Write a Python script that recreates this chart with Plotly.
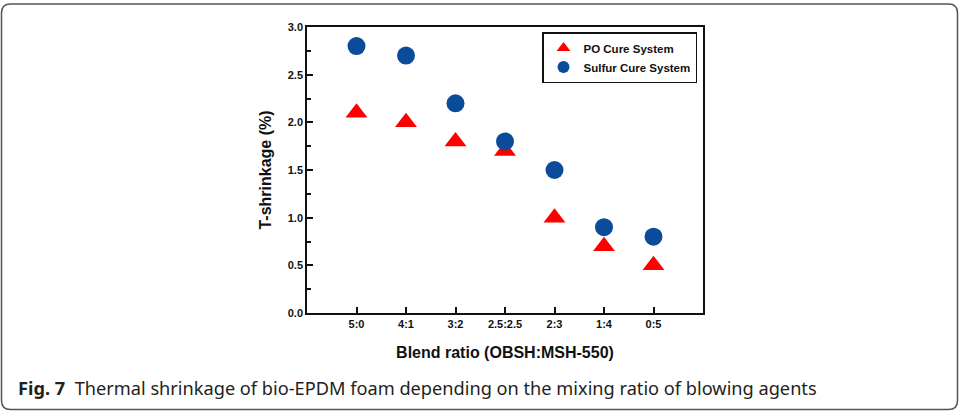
import plotly.graph_objects as go

categories = ["5:0", "4:1", "3:2", "2.5:2.5", "2:3", "1:4", "0:5"]
po_values = [2.1, 2.0, 1.8, 1.7, 1.0, 0.7, 0.5]
sulfur_values = [2.8, 2.7, 2.2, 1.8, 1.5, 0.9, 0.8]
y_ticks = [0.0, 0.5, 1.0, 1.5, 2.0, 2.5, 3.0]
y_tick_labels = ["0.0", "0.5", "1.0", "1.5", "2.0", "2.5", "3.0"]

W, H = 959, 413
L, R, T, B = 307, 703, 27, 313
FONT = "Arial, Liberation Sans, sans-serif"

xpos = list(range(len(categories)))

fig = go.Figure()
fig.add_trace(go.Scatter(
    x=xpos, y=po_values, mode="markers", name="<b>PO Cure System</b>",
    marker=dict(symbol="triangle-up", size=19, color="#FF0000", line=dict(width=0)),
))
fig.add_trace(go.Scatter(
    x=xpos, y=sulfur_values, mode="markers", name="<b>Sulfur Cure System</b>",
    marker=dict(symbol="circle", size=18, color="#0A4C9A", line=dict(width=0)),
))

def px2paper(px, py):
    return (px - L) / (R - L), (B - py) / (B - T)

def P(px, py):
    a, b = px2paper(px, py)
    return f"{a:.5f},{b:.5f}"

# rounded outer frame (figure border)
x0, y0, x1, y1, r = 1.5, 4.0, 957.5, 409.5, 9
path = (f"M {P(x0 + r, y0)} L {P(x1 - r, y0)} Q {P(x1, y0)} {P(x1, y0 + r)} "
        f"L {P(x1, y1 - r)} Q {P(x1, y1)} {P(x1 - r, y1)} "
        f"L {P(x0 + r, y1)} Q {P(x0, y1)} {P(x0, y1 - r)} "
        f"L {P(x0, y0 + r)} Q {P(x0, y0)} {P(x0 + r, y0)} Z")
fig.add_shape(type="path", path=path, xref="paper", yref="paper",
              line=dict(color="#555555", width=1.5), layer="above")

cap_x, cap_y = px2paper(16, 388)
fig.add_annotation(
    x=cap_x, y=cap_y, xref="paper", yref="paper", xanchor="left", yanchor="middle",
    showarrow=False,
    text="<b>Fig. 7</b>  Thermal shrinkage of bio-EPDM foam depending on the mixing ratio of blowing agents",
    font=dict(family="Noto Sans, Open Sans, sans-serif", size=18.2, color="#231F20"),
)

leg_x, leg_y = px2paper(697, 32)
fig.update_layout(
    width=W, height=H,
    margin=dict(l=L, r=W - R, t=T, b=H - B),
    paper_bgcolor="white", plot_bgcolor="white",
    showlegend=True,
    legend=dict(x=leg_x, y=leg_y, xanchor="right", yanchor="top",
                bgcolor="white", bordercolor="#111111", borderwidth=1.5,
                font=dict(family=FONT, size=11.5, color="#111111"),
                itemsizing="constant", tracegroupgap=0),
    xaxis=dict(
        range=[-1, 7], tickmode="array", tickvals=xpos, ticktext=categories,
        ticks="inside", ticklen=6, tickwidth=1.5, tickcolor="#111111",
        showline=True, linecolor="#111111", linewidth=1.5, mirror=True,
        showgrid=False, zeroline=False,
        tickfont=dict(family=FONT, size=11, color="#111111", weight="bold"),
        title=dict(text="<b>Blend ratio (OBSH:MSH-550)</b>", standoff=18,
                   font=dict(family=FONT, size=16, color="#111111")),
    ),
    yaxis=dict(
        range=[0, 3.0], tickmode="array", tickvals=y_ticks, ticktext=y_tick_labels,
        ticks="inside", ticklen=6, tickwidth=1.5, tickcolor="#111111",
        minor=dict(dtick=0.25, ticks="inside", ticklen=4, tickwidth=1.5, tickcolor="#111111", showgrid=False),
        showline=True, linecolor="#111111", linewidth=1.5, mirror=True,
        showgrid=False, zeroline=False,
        tickfont=dict(family=FONT, size=11, color="#111111", weight="bold"),
        title=dict(text="<b>T-shrinkage (%)</b>", standoff=12,
                   font=dict(family=FONT, size=16, color="#111111")),
    ),
)

fig.write_html(
    "out.html",
    config={"displayModeBar": False},
    post_script="document.body.style.margin='0';document.body.style.overflow='hidden';",
)
